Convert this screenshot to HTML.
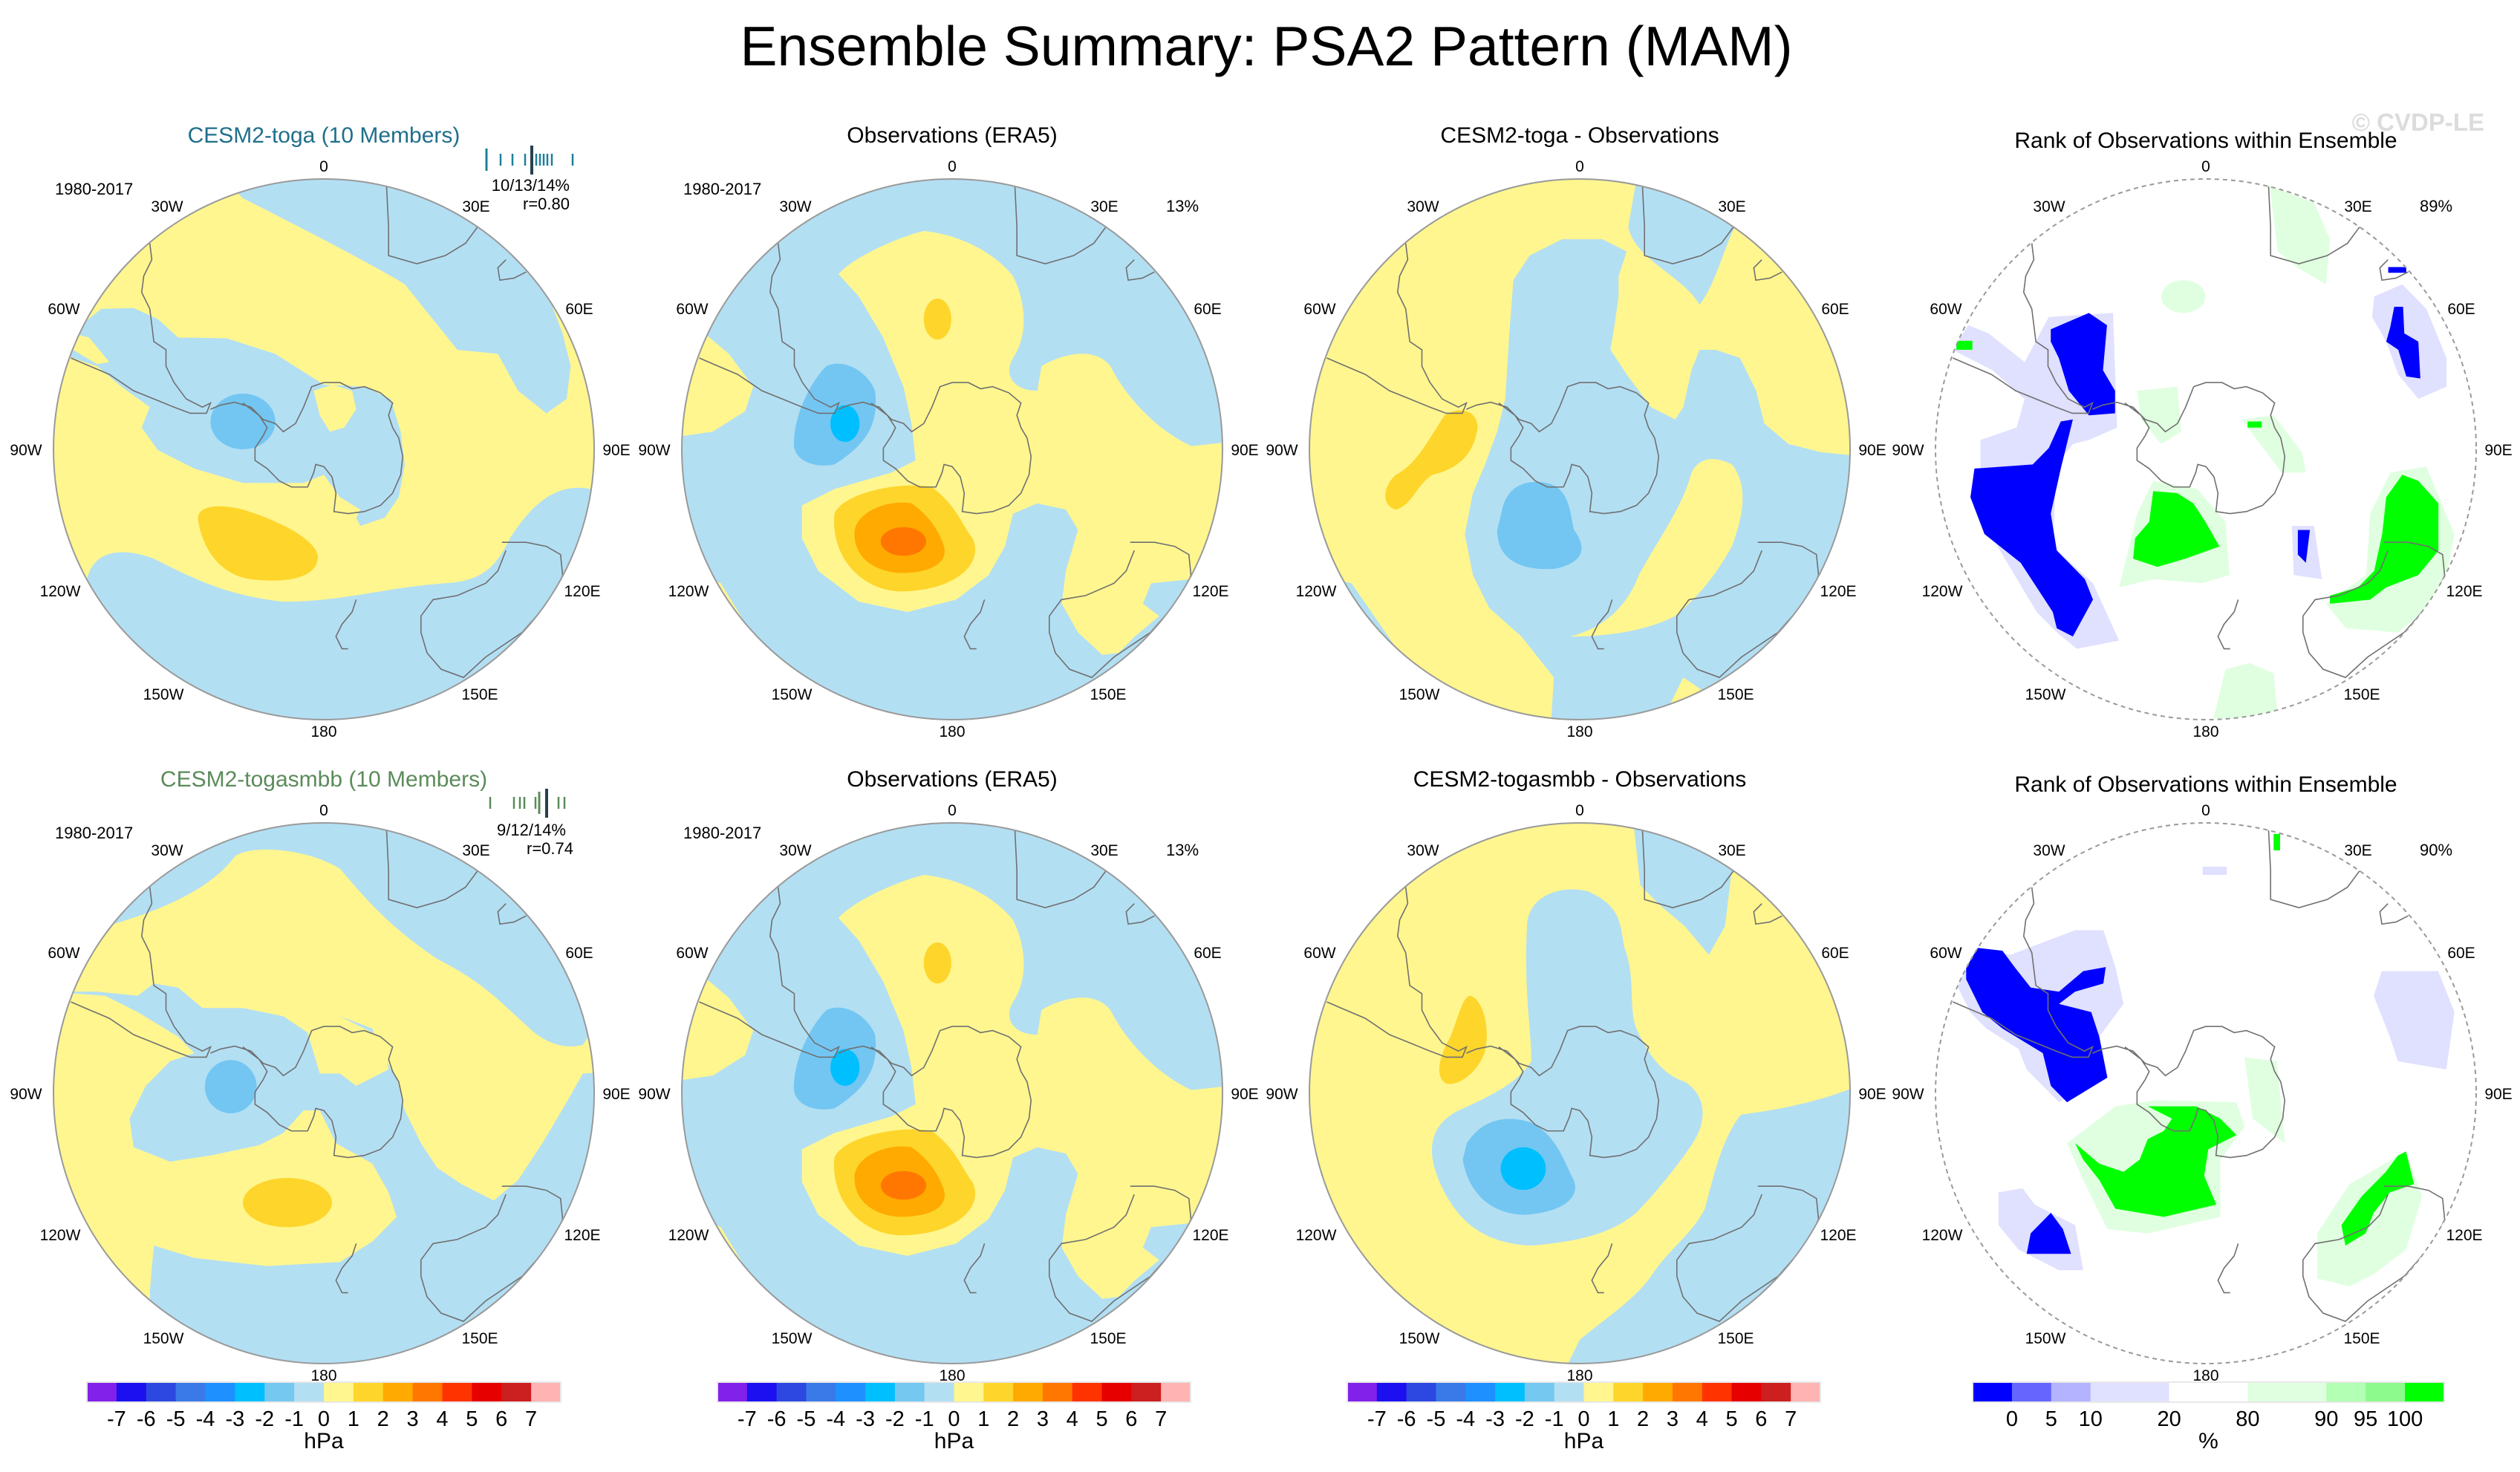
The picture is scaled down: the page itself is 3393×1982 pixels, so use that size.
<!DOCTYPE html>
<html><head><meta charset="utf-8"><title>Ensemble Summary: PSA2 Pattern (MAM)</title>
<style>
html,body{margin:0;padding:0;background:#fff;}
svg{display:block;font-family:"Liberation Sans",Arial,sans-serif;}
.lab{font-size:21px;fill:#000;text-anchor:middle;}
.ptitle{font-size:30px;text-anchor:middle;}
.coast{fill:none;stroke:#707070;stroke-width:1.6;vector-effect:non-scaling-stroke;}
</style></head>
<body>
<svg id="fig" width="3393" height="1982" viewBox="0 0 3393 1982" xmlns="http://www.w3.org/2000/svg">
<defs>
  <clipPath id="cc"><circle cx="0" cy="0" r="364"/></clipPath>
  <g id="coast">
    <path class="coast" d="M600,730 L640,760 L660,790 L650,810 L630,840 L630,870 L660,890 L690,920 L720,935 L760,935 L775,900 L780,880 L800,885 L820,910 L830,950 L825,995 L860,1000 L900,995 L940,980 L970,950 L990,905 L995,860 L985,815 L970,790 L960,760 L970,730 L940,705 L900,690 L870,695 L840,680 L800,680 L770,690 L750,740 L730,780 L700,800 L680,780 L650,770 L620,740 L580,728 L545,735 L520,745"/>
    <path class="coast" d="M370,340 L375,380 L355,420 L350,460 L370,500 L380,580 L410,600 L410,640 L430,680 L460,720 L500,740 L520,730 L510,755 L470,755 L430,740 L380,720 L330,700 L270,660 L210,635 L175,620"/>
    <path class="coast" d="M955,200 L960,300 L960,370 L1030,390 L1100,370 L1150,340 L1180,300"/>
    <path class="coast" d="M1250,380 L1230,400 L1235,430 L1270,425 L1300,410"/>
    <path class="coast" d="M1240,1070 L1300,1070 L1350,1080 L1385,1100 L1390,1150 L1370,1200 L1290,1290 L1200,1350 L1145,1400 L1090,1380 L1055,1340 L1040,1290 L1040,1250 L1070,1210 L1130,1200 L1200,1170 L1230,1140 L1250,1090"/>
    <path class="coast" d="M880,1210 L870,1240 L845,1270 L830,1300 L845,1330 L860,1330"/>
  </g>
  <g id="obs">
    <rect x="-200" y="0" width="1400" height="1700" fill="#b3dff3"/>
    <path fill="#fff68f" d="M255,415 C270,380 320,330 360,310 C410,320 450,370 470,420 C485,480 490,560 470,620 C458,660 470,700 500,700 L505,640 C530,610 570,590 590,640 C610,720 650,800 690,835 L760,820 L760,1150 L690,1160 L640,1170 L630,1220 L650,1250 L620,1300 L600,1340 L580,1345 L550,1290 L530,1220 L535,1140 L550,1040 L535,990 L500,975 L470,1000 L460,1080 L440,1150 L400,1210 L340,1240 L280,1215 L230,1140 L210,1060 L210,980 L250,940 L320,900 L350,870 L345,780 L335,690 L310,570 L280,470 Z"/>
    <path fill="#fff68f" d="M30,560 L90,560 L120,610 L150,690 L140,750 L100,800 L30,820 Z"/>
    <path fill="#fff68f" d="M90,1150 L110,1170 L150,1300 L90,1300 Z"/>
    <path fill="#fed52b" d="M250,1000 C260,950 330,920 370,935 C400,980 405,1020 420,1060 C435,1120 400,1190 330,1190 C280,1185 245,1100 250,1000 Z"/>
    <path fill="#ffaa00" d="M275,1040 C280,990 320,965 345,975 C370,1010 380,1050 385,1080 C390,1120 370,1145 330,1145 C295,1140 272,1100 275,1040Z"/>
    <ellipse fill="#ff7700" cx="335" cy="1068" rx="28" ry="35"/>
    <ellipse fill="#fed52b" cx="377" cy="525" rx="17" ry="50"/>
    <path fill="#73c6f2" d="M200,830 C200,760 220,680 240,640 C260,620 290,650 300,700 C305,780 290,830 250,880 C225,890 200,870 200,830Z"/>
    <ellipse fill="#00bfff" cx="263" cy="780" rx="18" ry="45"/>
  </g>
</defs>

<text x="1705" y="88" font-size="75" text-anchor="middle">Ensemble Summary: PSA2 Pattern (MAM)</text>
<text x="3345" y="176" font-size="33" font-weight="bold" fill="#dcdcdc" text-anchor="end">© CVDP-LE</text>

<!-- Row 1 Panel 1 -->
<g transform="translate(436,605)">
  <g clip-path="url(#cc)">
    <g transform="scale(0.5449,0.5515) translate(-800,-843)">
      <rect x="-200" y="0" width="2000" height="1700" fill="#fff68f"/>
      <path fill="#b3dff3" d="M560,190 L600,230 C700,280 900,380 1000,440 L1130,600 L1230,610 L1280,700 L1350,755 L1400,720 L1410,640 L1390,560 L1365,495 L1450,400 L1200,80 L560,80 Z"/>
      <path fill="#b3dff3" d="M150,610 L200,540 L250,500 L330,498 L390,525 L440,570 L560,572 L680,610 L760,660 L800,685 L900,690 L965,720 L990,800 L1000,880 L985,960 L950,1010 L890,1030 L880,1010 L890,990 L840,960 L800,905 L750,925 L600,925 L480,890 L390,845 L350,790 L370,740 L300,690 L240,640 Z"/>
      <path fill="#fff68f" d="M775,700 L820,685 L870,700 L880,745 L850,790 L815,800 L790,760 Z"/>
      <path fill="#fff68f" d="M180,560 L220,570 L270,630 L240,635 L180,600 Z"/>
      <ellipse fill="#73c6f2" cx="600" cy="775" rx="80" ry="68"/>
      <path fill="#fed52b" d="M490,1020 C480,980 540,975 600,990 C700,1020 790,1070 785,1110 C780,1160 700,1170 620,1160 C540,1150 500,1080 490,1020Z"/>
      <path fill="#b3dff3" d="M215,1160 C230,1090 300,1080 380,1110 C480,1160 560,1200 700,1215 C850,1215 950,1180 1100,1170 C1200,1165 1230,1120 1260,1060 C1300,1000 1360,920 1460,940 L1600,950 L1600,1700 L0,1700 L0,1160 Z"/>
    </g>
    <use href="#coast" transform="scale(0.5449,0.5515) translate(-800,-843)"/>
  </g>
  <circle r="364" fill="none" stroke="#9a9a9a" stroke-width="2"/>
</g>

<!-- Row 1 Panel 2 -->
<g transform="translate(1282,605)">
  <g clip-path="url(#cc)">
    <use href="#obs" transform="scale(1.0931,0.5515) translate(-395,-843)"/>
    <use href="#coast" transform="scale(0.5449,0.5515) translate(-800,-843)"/>
  </g>
  <circle r="364" fill="none" stroke="#9a9a9a" stroke-width="2"/>
</g>

<!-- Row 1 Panel 3 -->
<g transform="translate(2127,605)">
  <g clip-path="url(#cc)">
    <g transform="scale(1.0898,0.5515) translate(-1172,-843)">
      <rect x="700" y="0" width="1000" height="1700" fill="#fff68f"/>
      <path fill="#b3dff3" d="M1245,150 L1232,300 C1240,380 1300,420 1320,490 C1340,440 1350,350 1365,295 L1420,180 Z"/>
      <path fill="#b3dff3" d="M1090,430 L1085,560 L1080,720 L1070,800 L1055,880 L1040,950 L1030,1050 L1040,1150 L1060,1230 L1100,1300 L1140,1400 L1135,1560 L1600,1560 L1600,860 L1520,860 L1470,850 L1430,830 L1400,780 L1390,700 L1370,620 L1340,600 L1320,600 L1310,650 L1300,740 L1290,770 L1260,740 L1230,660 L1210,600 L1215,540 L1220,470 L1220,420 L1230,360 L1200,330 L1150,330 L1110,370 Z"/>
      <path fill="#fff68f" d="M1160,1300 C1200,1280 1230,1230 1245,1150 C1270,1060 1300,980 1310,900 C1320,860 1340,860 1360,880 C1380,930 1375,1000 1360,1080 C1340,1150 1320,1200 1290,1250 C1250,1290 1200,1300 1160,1300 Z"/>
      <path fill="#fff68f" d="M1270,1520 L1300,1400 L1330,1440 Z"/>
      <path fill="#b3dff3" d="M850,1150 L890,1170 L960,1370 L960,1450 L850,1300 Z"/>
      <path fill="#73c6f2" d="M1075,1000 C1080,940 1100,915 1130,925 C1160,935 1160,1000 1165,1040 C1180,1080 1180,1120 1140,1135 C1090,1140 1070,1100 1070,1040 Z"/>
      <path fill="#fed52b" d="M1005,760 C1030,730 1050,760 1045,800 C1040,850 1025,890 990,905 C970,930 965,980 945,990 C925,980 930,930 945,905 C970,880 985,820 1005,760Z"/>
    </g>
    <use href="#coast" transform="scale(0.5449,0.5515) translate(-800,-843)"/>
  </g>
  <circle r="364" fill="none" stroke="#9a9a9a" stroke-width="2"/>
</g>

<!-- Row 1 Panel 4 -->
<g transform="translate(2970,605)">
  <g clip-path="url(#cc)">
    <g transform="scale(0.5409,0.5515) translate(-771,-843)">
      <path fill="#e0e0ff" d="M210,900 L210,820 L300,790 L320,720 L240,650 L180,620 L140,600 L180,540 L230,560 L320,630 L380,520 L540,510 L545,650 L550,790 L480,820 L440,830 L400,880 L390,1080 L490,1170 L555,1310 L450,1330 L400,1290 L350,1240 L240,1060 L190,960 Z"/>
      <path fill="#0000ff" d="M195,890 L340,880 L380,840 L410,775 L440,770 L410,890 L385,1000 L400,1090 L470,1160 L490,1210 L440,1300 L400,1280 L390,1240 L310,1120 L220,1050 L185,960 Z"/>
      <path fill="#0000ff" d="M385,550 L480,510 L525,540 L515,650 L545,700 L545,755 L480,760 L430,700 L405,620 L385,580 Z"/>
      <path fill="#e0e0ff" d="M1190,470 L1260,440 L1320,500 L1370,620 L1370,690 L1300,720 L1250,660 L1220,580 L1185,520 Z"/>
      <path fill="#0000ff" d="M1240,495 L1262,495 L1265,560 L1300,580 L1305,670 L1270,665 L1250,600 L1220,580 L1230,545 Z"/>
      <rect fill="#0000ff" x="1225" y="398" width="45" height="14"/>
      <path fill="#e0e0ff" d="M985,1030 L1040,1030 L1060,1160 L990,1150 Z"/>
      <path fill="#0000ff" d="M1000,1040 L1030,1040 L1020,1120 L1000,1100 Z"/>
      <path fill="#e0ffe0" d="M555,1180 L600,1000 L640,920 L750,940 L820,1020 L830,1150 L760,1170 L640,1160 Z"/>
      <path fill="#e0ffe0" d="M600,700 L700,690 L710,800 L660,830 L610,770 Z"/>
      <path fill="#00ff00" d="M640,945 L700,950 L740,975 L770,1020 L805,1080 L720,1110 L650,1130 L590,1110 L595,1060 L630,1020 Z"/>
      <path fill="#e0ffe0" d="M1180,1000 L1230,900 L1320,885 L1390,1050 L1360,1200 L1250,1290 L1120,1280 L1070,1220 L1170,1150 Z"/>
      <path fill="#00ff00" d="M1260,905 L1300,920 L1350,975 L1350,1090 L1300,1150 L1220,1180 L1180,1210 L1080,1220 L1080,1200 L1150,1180 L1190,1140 L1210,1050 L1220,960 Z"/>
      <path fill="#e0ffe0" d="M930,200 L1040,240 L1080,330 L1070,440 L1000,400 L950,360 Z"/>
      <ellipse fill="#e0ffe0" cx="715" cy="470" rx="55" ry="40"/>
      <path fill="#e0ffe0" d="M790,1500 L820,1380 L880,1365 L940,1390 L950,1500 Z"/>
      <path fill="#e0ffe0" d="M860,770 L940,760 L1010,850 L1020,900 L960,900 Z"/>
      <rect fill="#00ff00" x="875" y="775" width="35" height="15"/>
      <rect fill="#00ff00" x="150" y="578" width="40" height="22"/>
    </g>
    <use href="#coast" transform="scale(0.5449,0.5515) translate(-800,-843)"/>
  </g>
  <circle r="364" fill="none" stroke="#9a9a9a" stroke-width="2" stroke-dasharray="6,5"/>
</g>

<!-- Row 2 Panel 1 -->
<g transform="translate(436,1472)">
  <g clip-path="url(#cc)">
    <g transform="scale(1.0898,0.5515) translate(-400,-838)">
      <rect x="-200" y="0" width="1200" height="1700" fill="#fff68f"/>
      <path fill="#b3dff3" d="M140,425 C200,390 260,340 290,260 C310,230 380,240 420,290 C450,360 480,430 540,510 C600,570 620,620 660,690 C680,720 700,730 720,720 L760,600 L700,100 L300,100 L100,330 Z"/>
      <path fill="#b3dff3" d="M60,590 L130,600 L170,640 L220,700 L240,740 L210,760 L180,820 L160,900 L165,970 L210,1005 L260,990 L320,965 L350,935 L375,880 L395,880 L415,960 L460,1010 L480,1080 L490,1140 L460,1200 L420,1250 L330,1260 L240,1240 L190,1210 L185,1320 L190,1700 L900,1700 L800,780 L720,790 L700,860 L670,960 L640,1050 L610,1100 L570,1060 L540,1020 L520,960 L500,880 L490,800 L470,740 L460,680 L420,650 L380,690 L350,650 L300,630 L250,630 L220,580 L190,570 L170,600 L120,590 Z"/>
      <path fill="#fff68f" d="M380,690 L420,650 L470,700 L480,780 L440,820 L420,790 L395,790 Z"/>
      <ellipse fill="#fed52b" cx="355" cy="1105" rx="55" ry="60"/>
      <ellipse fill="#73c6f2" cx="285" cy="822" rx="32" ry="65"/>
    </g>
    <use href="#coast" transform="scale(0.5449,0.5515) translate(-800,-843)"/>
  </g>
  <circle r="364" fill="none" stroke="#9a9a9a" stroke-width="2"/>
</g>

<!-- Row 2 Panel 2 -->
<g transform="translate(1282,1472)">
  <g clip-path="url(#cc)">
    <use href="#obs" transform="scale(1.0931,0.5515) translate(-395,-843)"/>
    <use href="#coast" transform="scale(0.5449,0.5515) translate(-800,-843)"/>
  </g>
  <circle r="364" fill="none" stroke="#9a9a9a" stroke-width="2"/>
</g>

<!-- Row 2 Panel 3 -->
<g transform="translate(2127,1472)">
  <g clip-path="url(#cc)">
    <g transform="scale(1.0866,0.5515) translate(-390,-838)">
      <rect x="-200" y="0" width="1200" height="1700" fill="#fff68f"/>
      <path fill="#b3dff3" d="M455,150 L465,330 L490,380 L520,430 L550,500 L570,430 L578,300 L620,230 L500,100 Z"/>
      <path fill="#b3dff3" d="M325,420 C330,350 370,330 400,345 C440,380 440,420 445,480 C460,560 450,620 460,680 C475,740 490,790 520,810 C545,840 550,900 530,960 C510,1020 480,1090 460,1130 C430,1180 390,1200 330,1210 C270,1205 240,1150 220,1070 C200,990 200,920 240,880 C280,845 315,810 330,760 C330,680 320,580 325,420 Z"/>
      <path fill="#b3dff3" d="M740,815 C690,860 630,880 590,890 C565,950 555,1050 545,1120 C530,1180 500,1220 480,1280 C460,1340 420,1390 390,1440 L370,1520 L900,1520 L900,815 Z"/>
      <path fill="#73c6f2" d="M250,960 C270,900 300,890 330,910 C360,940 370,1000 380,1040 C395,1090 370,1130 320,1135 C270,1130 250,1060 245,1000 Z"/>
      <ellipse fill="#00bfff" cx="320" cy="1022" rx="28" ry="52"/>
      <path fill="#fed52b" d="M255,600 C270,610 280,680 272,740 C262,790 240,820 225,815 C210,800 215,750 230,700 C240,650 245,600 255,600Z"/>
    </g>
    <use href="#coast" transform="scale(0.5449,0.5515) translate(-800,-843)"/>
  </g>
  <circle r="364" fill="none" stroke="#9a9a9a" stroke-width="2"/>
</g>

<!-- Row 2 Panel 4 -->
<g transform="translate(2970,1472)">
  <g clip-path="url(#cc)">
    <g transform="scale(1.0866,0.5515) translate(-1172,-838)">
      <path fill="#e0e0ff" d="M880,480 L930,500 L1010,440 L1045,440 L1060,530 L1070,620 L1040,700 L1040,800 L990,860 L950,780 L940,730 L900,680 L880,640 L860,560 Z"/>
      <path fill="#0000ff" d="M875,480 L920,490 L935,530 L955,580 L990,590 L1020,540 L1048,530 L1045,570 L1010,590 L990,620 L1030,640 L1040,700 L1050,800 L1000,860 L980,820 L970,740 L920,680 L895,640 L875,560 Z"/>
      <path fill="#e0e0ff" d="M1390,540 L1460,540 L1480,640 L1470,780 L1410,760 L1400,700 L1380,600 Z"/>
      <rect fill="#e0e0ff" x="1168" y="285" width="30" height="20"/>
      <path fill="#e0e0ff" d="M915,1080 L945,1070 L960,1110 L1010,1160 L1020,1270 L990,1270 L940,1220 L915,1160 Z"/>
      <path fill="#0000ff" d="M980,1130 L995,1170 L1005,1230 L950,1230 L955,1180 Z"/>
      <path fill="#e0ffe0" d="M1000,960 L1060,870 L1110,855 L1210,860 L1220,920 L1190,1000 L1190,1140 L1100,1180 L1050,1170 L1020,1050 Z"/>
      <path fill="#00ff00" d="M1100,870 L1160,870 L1190,900 L1210,940 L1175,975 L1170,1040 L1185,1110 L1120,1140 L1060,1120 L1040,1050 L1020,1000 L1010,960 L1040,1010 L1070,1030 L1090,1000 L1100,950 L1120,930 L1130,900 Z"/>
      <path fill="#e0ffe0" d="M1310,1180 L1350,1060 L1420,980 L1440,1090 L1420,1220 L1380,1280 L1350,1310 L1310,1290 Z"/>
      <path fill="#00ff00" d="M1420,980 L1430,1060 L1400,1080 L1380,1130 L1370,1180 L1345,1210 L1340,1160 L1365,1090 L1395,1030 L1410,990 Z"/>
      <path fill="#e0ffe0" d="M1220,750 L1260,760 L1270,960 L1230,900 Z"/>
      <rect fill="#00ff00" x="1256" y="205" width="8" height="40"/>
    </g>
    <use href="#coast" transform="scale(0.5449,0.5515) translate(-800,-843)"/>
  </g>
  <circle r="364" fill="none" stroke="#9a9a9a" stroke-width="2" stroke-dasharray="6,5"/>
</g>

<g id="labels"></g>
<g id="cbars"></g>
</svg>
<script>
// Colorbar data
const hpaLevels = ["-7","-6","-5","-4","-3","-2","-1","0","1","2","3","4","5","6","7"];
const hpaColors = ["#8221ea","#1d10f0","#2c48e0","#3a7ae8","#1e90ff","#00bfff","#75c8f0","#b3dff3","#fff68f","#fed52b","#ffaa00","#ff7700","#ff3300","#e60000","#cc1f1f","#ffb3b3"];
const rankLabels = ["0","5","10","20","80","90","95","100"];
const rankColors = ["#0000ff","#6666ff","#b3b3ff","#e0e0ff","#ffffff","#e0ffe0","#b3ffb3","#8cfa8c","#00ff00"];
const rankSpan = [1,1,1,2,2,2,1,1,1];

const NS = "http://www.w3.org/2000/svg";
function mk(tag, attrs, parent){const e=document.createElementNS(NS,tag);for(const k in attrs)e.setAttribute(k,attrs[k]);parent.appendChild(e);return e;}

const cb = document.getElementById('cbars');
const barTop = 1861, barH = 27;
function hpaBar(x0, x1, idx){
  const g = mk('g',{},cb);
  
  
  const w = (x1-x0)/hpaColors.length;
  hpaColors.forEach((c,i)=>{
    const r = mk('rect',{x:x0+i*w,y:barTop,width:w+0.5,height:barH,fill:c},g);
    
    
  });
  mk('rect',{x:x0,y:barTop,width:x1-x0,height:barH,fill:'none',stroke:'#e8e8e8','stroke-width':2},g);
  hpaLevels.forEach((t,i)=>{
    const tx = mk('text',{x:x0+(i+1)*w,y:1920,'font-size':29,'text-anchor':'middle'},g);
    tx.textContent=t;
    
    
  });
  const u = mk('text',{x:(x0+x1)/2,y:1950,'font-size':30,'text-anchor':'middle'},g);
  u.textContent='hPa';
  
  
}
hpaBar(117,755,1); hpaBar(966,1603,2); hpaBar(1814,2451,3);

(function(){
  const x0=2656, x1=3291;
  const g = mk('g',{},cb);
  
  
  const units = rankSpan.reduce((a,b)=>a+b,0);
  const uw = (x1-x0)/units;
  let x = x0;
  const bounds = [];
  rankColors.forEach((c,i)=>{
    const w = rankSpan[i]*uw;
    const r = mk('rect',{x:x,y:barTop,width:w+0.5,height:barH,fill:c},g);
    
    
    x += w; bounds.push(x);
  });
  mk('rect',{x:x0,y:barTop,width:x1-x0,height:barH,fill:'none',stroke:'#e8e8e8','stroke-width':2},g);
  rankLabels.forEach((t,i)=>{
    const tx = mk('text',{x:bounds[i],y:1920,'font-size':29,'text-anchor':'middle'},g);
    tx.textContent=t;
    
    
  });
  const u = mk('text',{x:(x0+x1)/2,y:1950,'font-size':30,'text-anchor':'middle'},g);
  u.textContent='%';
  
  
})();

// Panel labels
const centersX = [436,1282,2127,2970];
const centersY = [605,1472];
const lonNames = ["0","30W","30E","60W","60E","90W","90E","120W","120E","150W","150E","180"];
const lonDX = [0,-211,205,-350,344,-401,394,-355,348,-216,210,0];
const lonDY = [-374,-320,-320,-182,-182,8,8,198,198,337,337,387];
const titles = [["CESM2-toga (10 Members)","Observations (ERA5)","CESM2-toga - Observations","Rank of Observations within Ensemble"],
                ["CESM2-togasmbb (10 Members)","Observations (ERA5)","CESM2-togasmbb - Observations","Rank of Observations within Ensemble"]];
const titleColors = [["#1f6f8b","#000","#000","#000"],["#5b8b5b","#000","#000","#000"]];
const lg = document.getElementById('labels');
centersY.forEach((cy,row)=>{
  centersX.forEach((cx,col)=>{
    lonNames.forEach((n,i)=>{
      const t = mk('text',{x:cx+lonDX[i],y:cy+lonDY[i],class:'lab'},lg);
      t.textContent=n;
      
      
    });
    const ty = (col===3) ? cy-406 : cy-413;
    const tt = mk('text',{x:cx,y:ty,class:'ptitle'},lg);
    tt.setAttribute('fill', titleColors[row][col]);
    tt.textContent = titles[row][col];
    
    
  });
  [0,1].forEach(col=>{
    const t = mk('text',{x:centersX[col]-362,y:cy-343,'font-size':22},lg);
    t.textContent='1980-2017';
    
    
  });
});
const pctTexts = [["13%",1,0],["89%",3,0],["13%",1,1],["90%",3,1]];
pctTexts.forEach(p=>{
  const t = mk('text',{x:centersX[p[1]]+310,y:centersY[p[2]]-320,'font-size':22,'text-anchor':'middle'},lg);
  t.textContent=p[0];
  
  
});
// ensemble member tick strips
const ens1 = [655,674,690,707,722,727,732,737,743,771];
const ens2 = [660,692,700,706,721,752,760];
function ensStrip(xs, thick, other, y0, col, name){
  const g = mk('g',{},lg);
  
  
  xs.forEach(x=>mk('line',{x1:x,x2:x,y1:y0+9,y2:y0+25,stroke:col,'stroke-width':2.5},g));
  mk('line',{x1:other,x2:other,y1:y0+2,y2:y0+32,stroke:col,'stroke-width':3},g);
  mk('line',{x1:thick,x2:thick,y1:y0-2,y2:y0+37,stroke:'#26424f','stroke-width':4},g);
}
ensStrip(ens1,716,655,198,'#1f7f9c','ensemble-strip-toga');
ensStrip(ens2,736,726,1064,'#5b8b5b','ensemble-strip-togasmbb');
const stats = [["10/13/14%",767,257],["r=0.80",767,282],["9/12/14%",762,1125],["r=0.74",772,1150]];
stats.forEach(s=>{
  const t = mk('text',{x:s[1],y:s[2],'font-size':22,'text-anchor':'end'},lg);
  t.textContent=s[0];
  
  
});
</script>
</body></html>
